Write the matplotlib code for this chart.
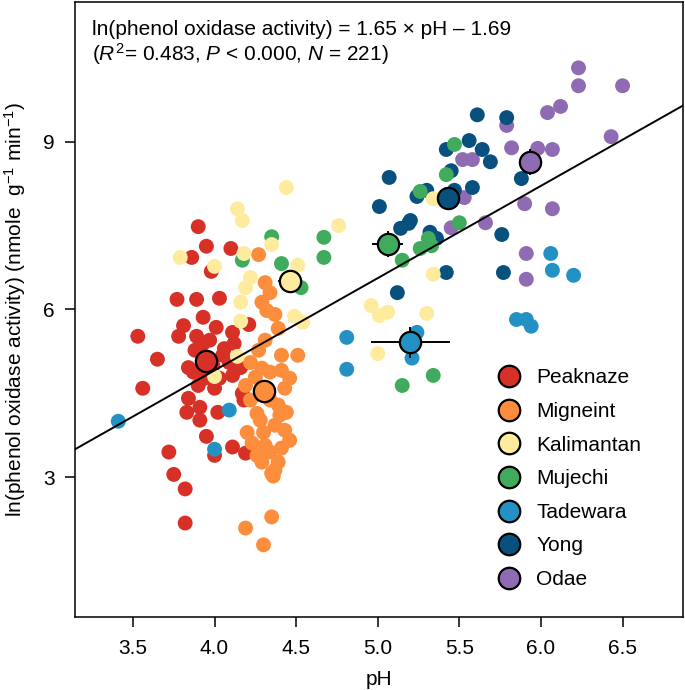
import matplotlib
matplotlib.use("Agg")
import matplotlib.pyplot as plt
from matplotlib.lines import Line2D
import numpy as np

plt.rcParams["font.family"] = ["Liberation Sans", "DejaVu Sans"]
plt.rcParams["mathtext.fontset"] = "custom"
plt.rcParams["mathtext.rm"] = "Liberation Sans"
plt.rcParams["mathtext.it"] = "Liberation Sans:italic"

sites = ["Peaknaze", "Migneint", "Kalimantan", "Mujechi", "Tadewara", "Yong", "Odae"]
colors = ["#D73027", "#FC8D3C", "#FEEB9D", "#41AB5D", "#2391C4", "#08507E", "#8E6BB3"]

# individual samples, pH and ln(activity)
peaknaze_ph = [3.90, 3.95, 4.10, 3.86, 3.98, 3.77, 3.89, 4.03, 3.93, 3.81, 4.01, 3.78, 3.53,
               3.89, 4.11, 4.21, 3.93, 4.12, 3.65, 4.05, 3.84, 3.56, 3.84, 3.91, 3.83, 3.91,
               4.02, 4.17, 4.18, 3.95, 3.72, 4.00, 4.11, 4.19, 3.75, 3.82, 3.82, 3.97, 4.06,
               3.88, 3.99, 4.09, 3.94, 4.03, 4.16, 3.87, 4.11, 4.00, 3.90]
peaknaze_y = [7.48, 7.13, 7.09, 6.93, 6.68, 6.18, 6.18, 6.20, 5.86, 5.71, 5.68, 5.52, 5.52,
              5.52, 5.59, 5.73, 5.39, 5.39, 5.11, 5.18, 4.96, 4.59, 4.41, 4.25, 4.16, 4.02,
              4.16, 4.50, 4.38, 3.73, 3.45, 3.39, 3.54, 3.43, 3.05, 2.79, 2.18, 5.45, 5.30,
              5.27, 5.00, 5.05, 4.77, 4.77, 4.96, 4.88, 4.82, 4.59, 4.64]

migneint_ph = [4.27, 4.31, 4.34, 4.29, 4.32, 4.37, 4.39, 4.41, 4.51, 4.31, 4.27, 4.22, 4.25,
               4.29, 4.34, 4.41, 4.46, 4.43, 4.22, 4.26, 4.34, 4.39, 4.44, 4.20, 4.30, 4.37,
               4.43, 4.23, 4.26, 4.34, 4.41, 4.46, 4.29, 4.39, 4.35, 4.37, 4.36, 4.35, 4.19,
               4.30, 4.19, 4.33, 4.28, 4.40, 4.31]
migneint_y = [6.98, 6.48, 6.30, 6.13, 5.98, 5.91, 5.66, 5.18, 5.18, 5.45, 5.27, 5.05, 4.79,
              4.95, 4.88, 4.91, 4.77, 4.59, 4.38, 4.14, 4.38, 4.29, 4.16, 3.80, 3.80, 3.93,
              3.84, 3.61, 3.39, 3.45, 3.52, 3.66, 3.27, 3.27, 3.07, 3.13, 3.02, 2.29, 2.09,
              1.79, 4.64, 4.55, 4.02, 4.11, 3.57]

kalimantan_ph = [4.14, 4.17, 4.44, 3.79, 4.00, 4.18, 4.35, 4.51, 4.22, 4.19, 4.16, 4.16,
                 4.49, 4.54, 4.76, 4.14, 4.00, 4.96, 5.01, 5.06, 5.30, 5.34, 5.00, 5.34]
kalimantan_y = [7.80, 7.59, 8.18, 6.93, 6.77, 7.00, 7.16, 6.79, 6.57, 6.39, 6.13, 5.79,
                5.88, 5.77, 7.50, 5.16, 4.80, 6.07, 5.89, 5.95, 5.93, 6.63, 5.21, 7.98]

mujechi_ph = [4.35, 4.17, 4.41, 4.53, 4.67, 4.67, 5.15, 5.26, 5.33, 5.31, 5.50, 5.26, 5.42,
              5.47, 5.34, 5.15]
mujechi_y = [7.30, 6.88, 6.82, 6.39, 7.29, 6.93, 6.88, 7.09, 7.14, 7.27, 7.55, 8.11, 8.41,
             8.95, 4.82, 4.64]

tadewara_ph = [3.41, 4.09, 4.00, 4.81, 4.81, 5.24, 5.21, 5.85, 5.91, 5.94, 6.06, 6.07, 6.20]
tadewara_y = [4.00, 4.20, 3.50, 5.50, 4.93, 5.59, 5.13, 5.82, 5.82, 5.70, 7.00, 6.70, 6.61]

yong_ph = [5.61, 5.79, 5.56, 5.64, 5.69, 5.42, 5.07, 5.24, 5.45, 5.58, 5.47, 5.01, 5.14,
           5.19, 5.32, 5.36, 5.76, 5.88, 5.42, 5.77, 5.12, 5.20, 5.30]
yong_y = [9.48, 9.43, 9.02, 8.86, 8.64, 8.86, 8.36, 8.02, 8.48, 8.18, 8.13, 7.84, 7.45,
          7.54, 7.38, 7.27, 7.34, 8.34, 6.66, 6.66, 6.30, 7.59, 8.13]

odae_ph = [6.23, 6.23, 6.50, 6.12, 6.04, 5.79, 6.43, 5.82, 5.98, 6.07, 5.52, 5.58, 5.53,
           5.90, 6.07, 5.66, 5.45, 5.91, 5.91]
odae_y = [10.32, 10.00, 10.00, 9.63, 9.52, 9.29, 9.09, 8.89, 8.88, 8.86, 8.68, 8.68, 8.00,
          7.89, 7.80, 7.55, 7.46, 7.00, 6.54]

# site means with standard errors
mean_ph = [3.95, 4.30, 4.46, 5.06, 5.20, 5.43, 5.93]
mean_y = [5.07, 4.54, 6.50, 7.17, 5.41, 7.99, 8.63]
se_ph = [0.03, 0.02, 0.07, 0.095, 0.24, 0.04, 0.05]
se_y = [0.12, 0.13, 0.12, 0.23, 0.28, 0.15, 0.23]

slope = 1.65
intercept = -1.69

samples = {
    "Peaknaze": (peaknaze_ph, peaknaze_y),
    "Migneint": (migneint_ph, migneint_y),
    "Kalimantan": (kalimantan_ph, kalimantan_y),
    "Mujechi": (mujechi_ph, mujechi_y),
    "Tadewara": (tadewara_ph, tadewara_y),
    "Yong": (yong_ph, yong_y),
    "Odae": (odae_ph, odae_y),
}
# drawing order of the sample clouds
draw_order = ["Peaknaze", "Migneint", "Odae", "Yong", "Mujechi", "Tadewara", "Kalimantan"]

fs = 15

fig = plt.figure(figsize=(6.85, 6.9), dpi=100)
ax = fig.add_axes([0.1095, 0.1058, 0.8875, 0.8915])

for name in draw_order:
    i = sites.index(name)
    ph, y = samples[name]
    ax.scatter(ph, y, s=115, color=colors[i], edgecolors="none", zorder=2)

ax.axline((0, intercept), slope=slope, color="black", lw=1.4, zorder=3)

for i in range(len(sites)):
    ax.errorbar(mean_ph[i], mean_y[i], xerr=se_ph[i], yerr=se_y[i], fmt="none",
                ecolor="black", elinewidth=1.4, capsize=0, zorder=4)
    ax.scatter(mean_ph[i], mean_y[i], s=235, color=colors[i], edgecolors="black",
               linewidths=1.6, zorder=5)

ax.set_xlim(3.145, 6.87)
ax.set_ylim(0.5, 11.5)
ax.set_xticks([3.5, 4.0, 4.5, 5.0, 5.5, 6.0, 6.5])
ax.set_xticklabels(["3.5", "4.0", "4.5", "5.0", "5.5", "6.0", "6.5"])
ax.set_yticks([3, 6, 9])
ax.tick_params(axis="both", direction="out", length=7.5, width=1.1, labelsize=fs)
ax.tick_params(axis="x", pad=8)
ax.tick_params(axis="y", pad=7)
for sp in ax.spines.values():
    sp.set_linewidth(1.1)

ax.set_xlabel("pH", fontsize=fs, labelpad=9)
ax.set_ylabel(r"ln(phenol oxidase activity) (nmole  g$^{-1}$ min$^{-1}$)", fontsize=fs)
ax.yaxis.set_label_coords(-0.077, 0.5)

ax.text(0.028, 0.970, "ln(phenol oxidase activity) = 1.65 \u00d7 pH \u2013 1.69",
        transform=ax.transAxes, fontsize=fs, va="top", ha="left")
ax.text(0.028, 0.937, r"($\mathit{R}^2$= 0.483, $\mathit{P}$ < 0.000, $\mathit{N}$ = 221)",
        transform=ax.transAxes, fontsize=fs, va="top", ha="left")

handles = [Line2D([], [], ls="none", marker="o", markersize=15.5, markerfacecolor=c,
                  markeredgecolor="black", markeredgewidth=1.6) for c in colors]
ax.legend(handles, sites, loc="upper left", bbox_to_anchor=(0.697, 0.404), frameon=False,
          fontsize=fs, handlelength=1.0, handletextpad=0.8, labelspacing=0.70,
          borderpad=0, borderaxespad=0)

fig.savefig("out.png", dpi=100)
